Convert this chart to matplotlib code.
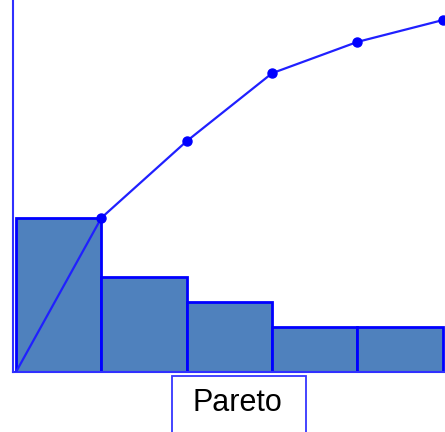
import matplotlib
matplotlib.use("Agg")
import matplotlib.pyplot as plt
from matplotlib.patches import Rectangle
import numpy as np

# share of each category (bars) and cumulative line, in percent
categories = ["A", "B", "C", "D", "E"]
shares = [43.8, 27.0, 19.9, 12.8, 12.8]
cumulative = [0, 43.8, 65.6, 84.9, 93.8, 100.0]
label = "Pareto"

W, H = 445, 432
fig = plt.figure(figsize=(W / 100, H / 100), dpi=100)
ax = fig.add_axes([13 / W, (H - 372) / H, (W - 13) / W, 372 / H])

x = np.arange(len(categories))
ax.bar(x, shares, width=1.0, align="edge", color="#4F81BD",
       edgecolor="#0000FF", linewidth=2.0, zorder=2)

# cumulative line runs through the bar edges
edges = np.arange(len(categories) + 1)
ax.plot(edges, cumulative, color="#2020FF", linewidth=1.6, zorder=3)
ax.plot(edges[1:], cumulative[1:], "o", color="#0000FF", markersize=6.5, zorder=4)

ax.set_xlim(-0.035, 5.025)
ax.set_ylim(0, 105.7)
ax.set_xticks([])
ax.set_yticks([])
for s in ["top", "right"]:
    ax.spines[s].set_visible(False)
for s in ["left", "bottom"]:
    ax.spines[s].set_color("#3030FF")
    ax.spines[s].set_linewidth(1.5)

# label box below the axis
fig.add_artist(Rectangle((172 / W, -0.01), (306 - 172) / W, (H - 376) / H + 0.01,
                         transform=fig.transFigure, facecolor="white",
                         edgecolor="#3535FF", linewidth=1.3))
fig.text(237 / W, (H - 403) / H, label, ha="center", va="center",
         fontsize=22, family="Liberation Sans", color="black")

fig.savefig("out.png", dpi=100)
